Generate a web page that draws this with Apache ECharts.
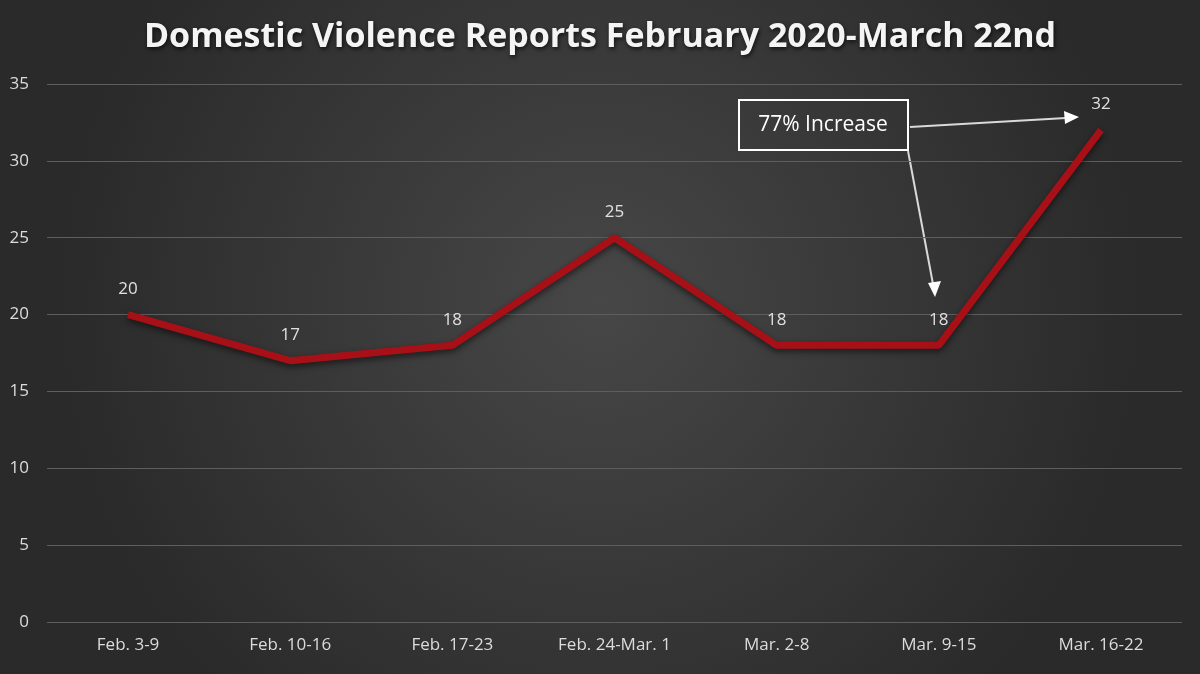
<!DOCTYPE html>
<html><head><meta charset="utf-8">
<script src="https://cdn.jsdelivr.net/npm/echarts@6/dist/echarts.min.js"></script>
<style>html,body{margin:0;padding:0;background:#333}#c{width:1200px;height:674px}</style>
</head><body><div id="c"></div>
<script>
const titleText = 'Domestic Violence Reports February 2020-March 22nd';
const categories = ['Feb. 3-9','Feb. 10-16','Feb. 17-23','Feb. 24-Mar. 1','Mar. 2-8','Mar. 9-15','Mar. 16-22'];
const reports = [20,17,18,25,18,18,32];
const yTicks = {min:0, max:35, interval:5};
const annotationText = '77% Increase';

const chart = echarts.init(document.getElementById('c'));
chart.setOption({
  backgroundColor: {type:'radial', x:0.5, y:0.45, r:0.8,
    colorStops:[{offset:0,color:'#474747'},{offset:1,color:'#2a2a2a'}]},
  title: {text:titleText, left:'center', top:15,
    textStyle:{color:'#f4f4f4', fontFamily:'Open Sans', fontWeight:'bold', fontSize:34,
      textShadowColor:'rgba(0,0,0,0.7)', textShadowBlur:4, textShadowOffsetX:1, textShadowOffsetY:2}},
  grid: {left:47, right:18, top:84, bottom:52},
  xAxis: {type:'category', data:categories, boundaryGap:true,
    axisLine:{show:false}, axisTick:{show:false},
    axisLabel:{color:'#dcdcdc', fontSize:17, fontFamily:'Open Sans', margin:15}},
  yAxis: {type:'value', min:yTicks.min, max:yTicks.max, interval:yTicks.interval,
    axisLine:{show:false}, axisTick:{show:false},
    axisLabel:{color:'#dcdcdc', fontSize:17, fontFamily:'Open Sans', margin:18},
    splitLine:{lineStyle:{color:'#5e5e5e', width:1}}},
  series: [{type:'line', data:reports, symbol:'circle', symbolSize:2, showSymbol:true,
    itemStyle:{color:'rgba(0,0,0,0)', borderWidth:0}, smooth:false,
    lineStyle:{color:'#a81018', width:7, shadowColor:'rgba(0,0,0,0.55)', shadowBlur:6, shadowOffsetY:3},
    label:{show:true, position:'top', distance:16, color:'#e0e0e0', fontSize:17, fontFamily:'Open Sans'}}],
  graphic: [
    {type:'rect', shape:{x:739, y:100, width:169, height:50},
     style:{fill:'rgba(0,0,0,0)', stroke:'#ffffff', lineWidth:2}},
    {type:'text', x:823, y:125, style:{text:annotationText, fill:'#ffffff', fontSize:21,
     fontFamily:'Open Sans', align:'center', verticalAlign:'middle'}},
    {type:'line', shape:{x1:910, y1:127, x2:1066, y2:118}, style:{stroke:'#d9d9d9', lineWidth:2}},
    {type:'polygon', shape:{points:[[1079,117],[1064,111],[1065,124]]}, style:{fill:'#ffffff'}},
    {type:'line', shape:{x1:908, y1:151, x2:933, y2:284}, style:{stroke:'#d9d9d9', lineWidth:2}},
    {type:'polygon', shape:{points:[[935,297],[928,283],[941,281]]}, style:{fill:'#ffffff'}}
  ]
});
</script></body></html>
